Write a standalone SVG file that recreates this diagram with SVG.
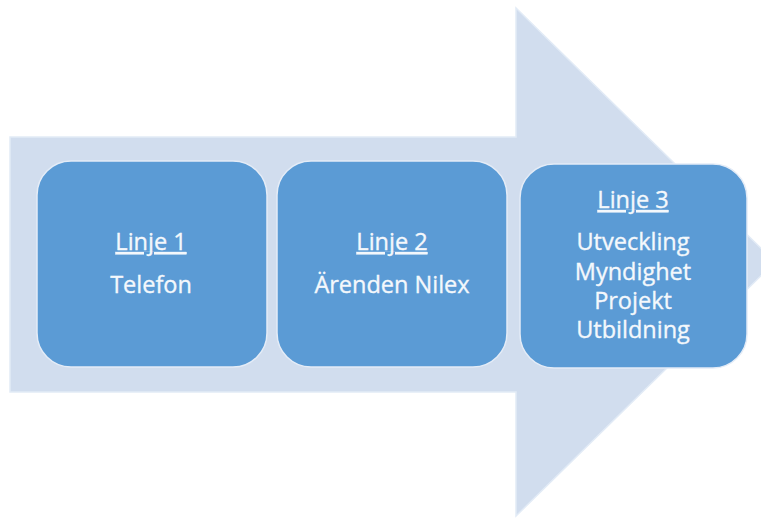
<svg xmlns="http://www.w3.org/2000/svg" width="761" height="518" viewBox="0 0 761 518">
  <style>
    .box { fill: #5B9BD5; stroke: #E4ECF7; stroke-width: 1.5; }
    .t { font-family: "Open Sans", "Liberation Sans", sans-serif; font-size: 23.5px; fill: #F4F8FC; stroke: #F4F8FC; stroke-width: 0.35; text-anchor: middle; }
    .u { text-decoration: underline; }
  </style>
  <rect width="761" height="518" fill="#FFFFFF"/>
  <g id="arrow">
    <polygon points="10,137 516,137 516,8 775,262 516,516 516,392 10,392" fill="#D1DDEE" stroke="#E2EBF6" stroke-width="1.5"/>
  </g>
  <g id="connectors"></g>
  <g id="node1">
    <rect class="box" x="37" y="161" width="230" height="206" rx="34" ry="34"/>
    <text class="t u" x="151" y="250">Linje 1</text>
    <text class="t" x="151" y="293">Telefon</text>
  </g>
  <g id="node2">
    <rect class="box" x="277" y="161" width="230" height="206" rx="34" ry="34"/>
    <text class="t u" x="392" y="250">Linje 2</text>
    <text class="t" x="392" y="293">Ärenden Nilex</text>
  </g>
  <g id="node3">
    <rect class="box" x="520" y="164" width="227" height="204" rx="34" ry="34"/>
    <text class="t u" x="633" y="208">Linje 3</text>
    <text class="t" x="633" y="250">Utveckling</text>
    <text class="t" x="633" y="280">Myndighet</text>
    <text class="t" x="633" y="309">Projekt</text>
    <text class="t" x="633" y="338">Utbildning</text>
  </g>
</svg>
